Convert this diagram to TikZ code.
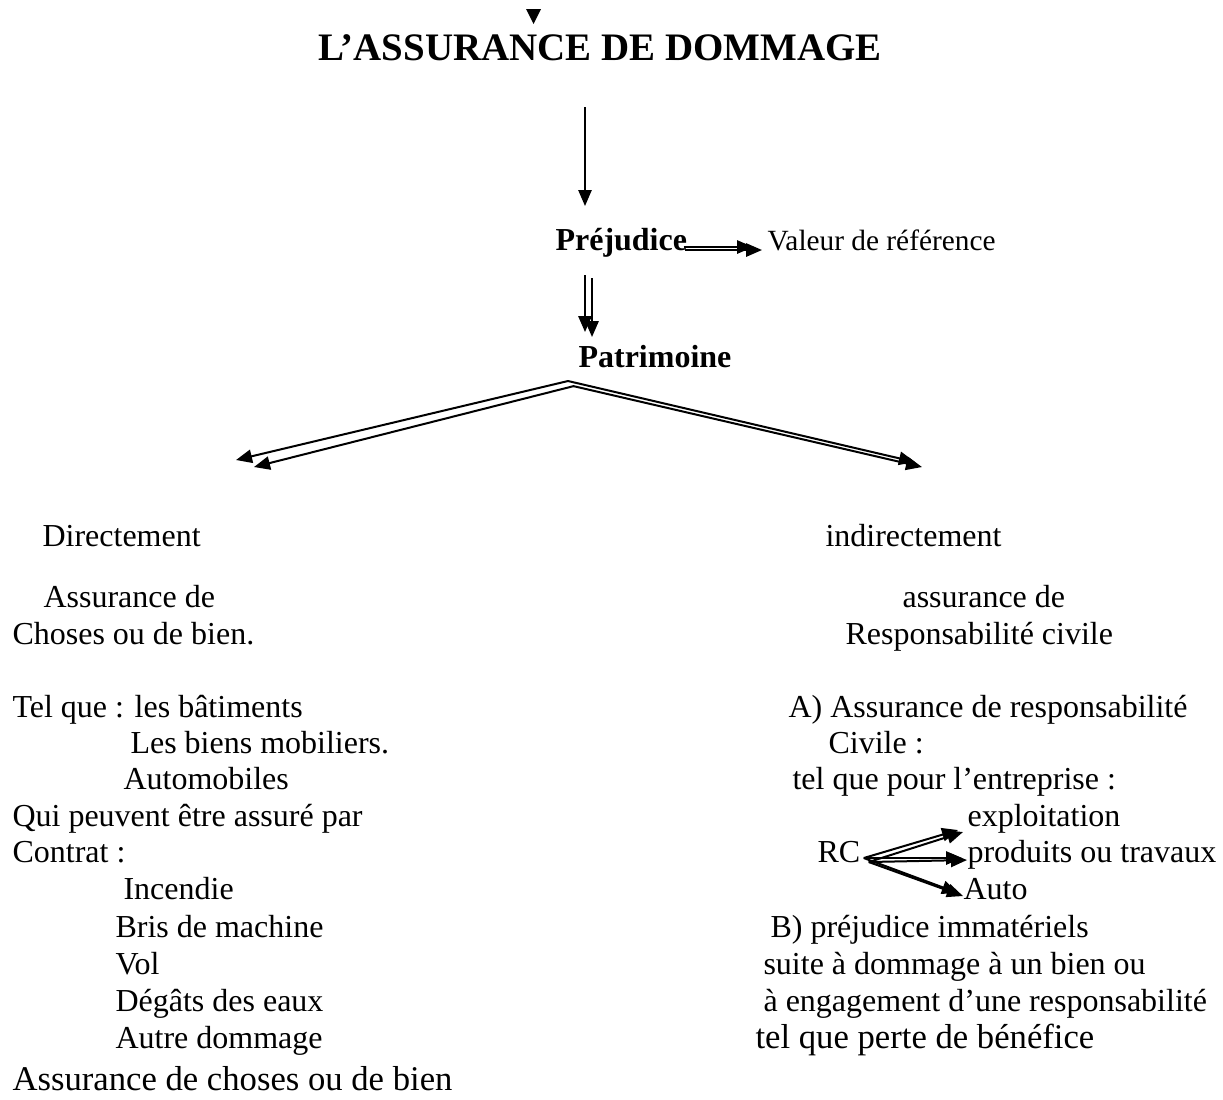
\documentclass[tikz,border=0pt]{standalone}
\usepackage{fontspec}
\setmainfont{Liberation Serif}
\usetikzlibrary{arrows.meta,calc}
\definecolor{shade}{HTML}{7F7F7F}
\tikzset{
  txt/.style={anchor=base west,inner sep=0pt,font=\fontsize{12}{14}\selectfont},
  big/.style={anchor=base west,inner sep=0pt,font=\fontsize{13}{15}\selectfont},
  head/.style={anchor=base west,inner sep=0pt,font=\fontsize{12}{14}\selectfont\bfseries},
  ttl/.style={anchor=base,inner sep=0pt,font=\fontsize{14.6}{17}\selectfont\bfseries},
  arr/.style={black,line width=0.75pt,-{Triangle[length=6pt,width=5pt]}},
  shadowarr/.style={shade,line width=0.75pt,-{Triangle[length=6pt,width=5pt]}}
}

\begin{document}
\begin{tikzpicture}[x=0.375pt,y=-0.375pt]
\useasboundingbox (0,0) rectangle (1223,1099);
\node[ttl] (title) at (600,60) {L’ASSURANCE DE DOMMAGE};
\node[head] (prej) at (555,250) {Préjudice};
\node[txt,font=\fontsize{11}{13}\selectfont] (val) at (767,250) {Valeur de référence};
\node[head] (patr) at (578,367) {Patrimoine};
\foreach \n/\x/\y/\t in {dir/42/546/Directement, choA/43/607/Assurance de, choB/12/644/Choses ou de bien.,
  tel/12/717/Tel que : les bâtiments, mob/130/753/Les biens mobiliers., autom/123/789/Automobiles,
  qui/12/826/Qui peuvent être assuré par, contrat/12/862/Contrat :, inc/123/899/Incendie,
  bris/115/937/Bris de machine, vol/115/974/Vol, eaux/115/1011/Dégâts des eaux, autre/115/1048/Autre dommage}
  \node[txt] (\n) at (\x,\y) {\t};
\foreach \n/\x/\y/\t in {indir/825/546/indirectement, rcA/902/607/assurance de, rcB/845/644/Responsabilité civile,
  respA/788/717/A) Assurance de responsabilité, civ/828/753/Civile :, entr/792/789/tel que pour l’entreprise :,
  expl/967/826/exploitation, rc/817/862/RC, prod/967/862/produits ou travaux, autoR/963/899/Auto,
  immat/770/937/B) préjudice immatériels, suite/763/974/suite à dommage à un bien ou,
  engag/763/1011/à engagement d’une responsabilité}
  \node[txt] (\n) at (\x,\y) {\t};
\node[big] (perte) at (755,1048) {tel que perte de bénéfice};
\node[big] (fin) at (12,1090) {Assurance de choses ou de bien};
\fill ($(title.base)+(-74,-51)$) -- ++(15,0) -- ++(-7.5,15) -- cycle;
\draw[arr,line width=0.6pt] ($(title.base)+(-15,47)$) -- ($(prej.base west)+(30,-44)$);
\draw[shadowarr] ($(prej.base east)+(-3,0)$) -- ($(val.base west)+(-5,0)$);
\draw[arr] ($(prej.base east)+(-4,-3)$) -- ($(val.base west)+(-14,-3)$);
\draw[shadowarr] ($(prej.base west)+(37,28)$) -- ($(patr.base west)+(14,-30)$);
\draw[arr] ($(prej.base west)+(30,25)$) -- ($(patr.base west)+(7,-35)$);
\coordinate (apex) at ($(patr.base west)+(-10,14)$);
\coordinate (tipL) at (236,460);
\coordinate (tipR) at (915,462);
\draw[shadowarr] ($(apex)+(6,5)$) -- ($(tipL)+(18,7)$);
\draw[shadowarr] ($(apex)+(5,5)$) -- ($(tipR)+(7,5)$);
\draw[arr] (apex) -- (tipL);
\draw[arr] (apex) -- (tipR);
\foreach \t/\bx/\by/\gx/\gy in {expl/-9/4/-4/6, prod/-5/-4/0/-2, autoR/-5/-6/0/-3} {
  \draw[shadowarr] ($(rc.base east)+(8,0)$) -- ($(\t.base west)+(\gx,\gy)$);
  \draw[arr] ($(rc.base east)+(3,-4)$) -- ($(\t.base west)+(\bx,\by)$);
}
\end{tikzpicture}
\end{document}
